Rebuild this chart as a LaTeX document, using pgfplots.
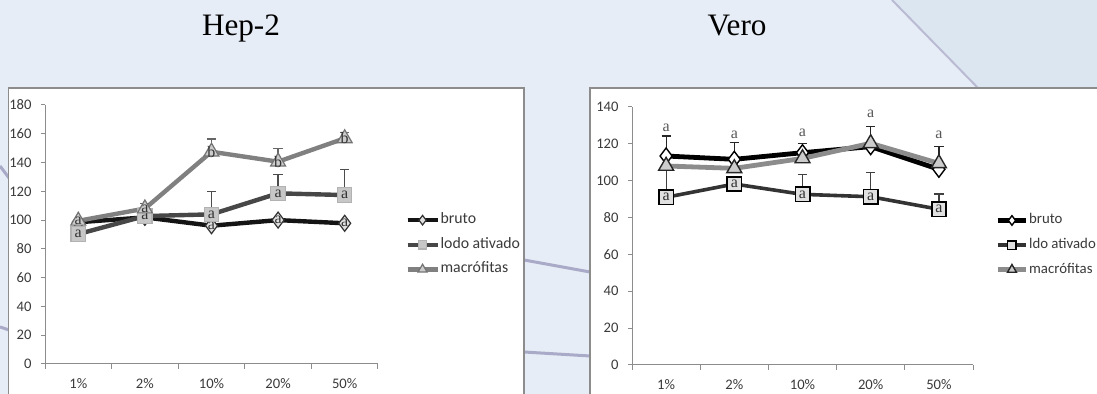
\documentclass[border=0pt]{standalone}
\usepackage{fontspec}
\setmainfont{Liberation Serif}
\newfontfamily\calib{Carlito}
\usepackage{pgfplots}
\usepackage{pgfplotstable}
\pgfplotsset{compat=1.18}
\definecolor{bgblue}{HTML}{E6EDF6}
\definecolor{bgblue2}{HTML}{DCE6F1}
\definecolor{decoline}{HTML}{A9AAC8}
\definecolor{boxgray}{HTML}{8C8C8C}
\definecolor{axisgray}{HTML}{8C8C8C}
\definecolor{tickgray}{HTML}{3A3A3A}

% Hep-2
\pgfplotstableread{
x bruto lodo lodoe macro macroe ml
1 98.5 90.3 0 99.5 0 a
2 101.9 102.8 0 108 3.6 a
3 96.1 104 15.7 147.5 8.9 b
4 100 118.6 13.2 140.6 9.2 b
5 97.8 117.4 17.9 156.8 4.2 b
}\hep
% Vero
\pgfplotstableread{
x bruto brutoe lodo lodoe macro macroe lab
1 113.4 10.9 91 16 108 0 128.5
2 111.6 9 98.2 3 106.7 0 125.1
3 115.2 5.1 92.6 10.9 112.1 0 126
4 118.5 10.8 91.3 13 120.3 0 136.5
5 106.2 12.3 84.5 8.3 109.4 0 125.1
}\vero

\pgfplotsset{
  mychart/.style={
    scale only axis,
    axis lines*=left,
    axis line style={draw=axisgray,line width=0.5pt},
    xmin=0.5,xmax=5.5,
    ymin=0,
    xtick={1,...,5},
    xticklabels={1\%,2\%,10\%,20\%,50\%},
    minor xtick={0.5,1.5,...,5.5},
    major x tick style={draw=none},
    minor tick style={draw=axisgray,line width=0.5pt},
    major tick style={draw=axisgray,line width=0.5pt},
    tick align=outside,
    major tick length=2pt,
    minor tick length=2.5pt,
    tick label style={font=\calib\fontsize{7.3}{8}\selectfont, text=tickgray},
    xticklabel style={yshift=-1.6pt},
    yticklabel style={xshift=-1.2pt},
    /pgf/number format/assume math mode=true,
    clip=false,
    legend cell align=left,
    legend style={draw=none,fill=none,inner sep=0pt,
      font=\calib\fontsize{7.9}{9}\selectfont,text=tickgray,
      row sep=5pt,
      nodes={inner sep=0.4pt,text height=5pt,text depth=1.5pt}},
    legend image code/.code={%
      \draw[##1,/tikz/every mark/.append style={scale=0.6}] (0pt,0pt) -- (15pt,0pt);
      \draw[##1,/tikz/every mark/.append style={scale=0.6},mark repeat=2,mark phase=2] plot coordinates {(0pt,0pt) (7.5pt,0pt) (15pt,0pt)};},
    every node near coord/.append style={anchor=center,inner sep=0pt,
      font=\fontsize{8}{9}\selectfont,text=black!80},
  },
}

\begin{document}
\begin{tikzpicture}
\useasboundingbox (0pt,0pt) rectangle (548.5pt,197pt);
\clip (0pt,0pt) rectangle (548.5pt,197pt);
\begin{scope}[x=0.5pt,y=0.5pt]
% background
\fill[bgblue] (0,0) rectangle (1097,394);
\fill[bgblue2] (892,394) -- (978,306) -- (1097,306) -- (1097,394) -- cycle;
\draw[decoline!80,line width=1pt] (892,394) -- (978,306);
\draw[decoline,line width=1.5pt] (0,228) .. controls (4,222) .. (9,216);
\draw[decoline,line width=1.5pt] (0,67) -- (9,64);
\draw[decoline,line width=1.5pt] (524,134) -- (590,122);
\draw[decoline,line width=1.5pt] (524,42) -- (590,38);
% titles
\node[anchor=base,font=\fontsize{15.6}{18}\selectfont] at (241,358) {Hep-2};
\node[anchor=base,font=\fontsize{15.6}{18}\selectfont] at (737,358) {Vero};
% boxes
\draw[boxgray,fill=white,line width=0.6pt] (8.5,-10) rectangle (524,306);
\draw[boxgray,fill=white,line width=0.6pt] (590,-10) rectangle (1110,306);
\end{scope}

% ---------- Hep-2 ----------
\begin{axis}[mychart,
  at={(22.5pt,15pt)},anchor=south west,
  width=166.5pt,height=129.5pt,
  ymax=180,ytick={0,20,...,180},
  legend style={at={(1.081,0.585)},anchor=north west},
  error bars/error bar style={line width=0.6pt},
  error bars/error mark options={rotate=90,mark size=2.3pt,line width=0.6pt},
]
\addplot[black!92,line width=2.2pt,mark=diamond*,mark size=4pt,
  mark options={fill=black!12,draw=black!80,line width=0.6pt},
  nodes near coords={a}]
  table[x=x,y=bruto]{\hep};
\addlegendentry{bruto}
\addplot[black!72,line width=2.2pt,mark=square*,mark size=3.6pt,
  mark options={fill=black!22,draw=black!30,line width=0.6pt},
  nodes near coords={a},
  error bars/.cd,y dir=plus,y explicit,error bar style={black!70}]
  table[x=x,y=lodo,y error=lodoe]{\hep};
\addlegendentry{lodo ativado}
\addplot[black!50,line width=2.2pt,mark=triangle*,mark size=4.3pt,
  mark options={fill=black!20,draw=black!55,line width=0.6pt},
  point meta=explicit symbolic,
  nodes near coords,
  error bars/.cd,y dir=plus,y explicit,error bar style={black!60}]
  table[x=x,y=macro,y error=macroe,meta=ml]{\hep};
\addlegendentry{macr\'ofitas}
\end{axis}

% ---------- Vero ----------
\begin{axis}[mychart,
  at={(316pt,14.5pt)},anchor=south west,
  width=170.5pt,height=129pt,
  ymax=140,ytick={0,20,...,140},
  legend style={at={(1.065,0.59)},anchor=north west,
    font=\calib\fontsize{7.4}{9}\selectfont},
  legend image code/.code={%
    \draw[#1,/tikz/every mark/.append style={scale=0.6}] (0pt,0pt) -- (14pt,0pt);
    \draw[#1,/tikz/every mark/.append style={scale=0.6},mark repeat=2,mark phase=2] plot coordinates {(0pt,0pt) (7pt,0pt) (14pt,0pt)};},
  error bars/error bar style={line width=0.6pt},
  error bars/error mark options={rotate=90,mark size=2.3pt,line width=0.6pt},
]
\addplot[black,line width=2.4pt,mark=diamond*,mark size=4pt,
  mark options={fill=white,draw=black,line width=0.7pt},
  error bars/.cd,y dir=plus,y explicit,error bar style={black!85}]
  table[x=x,y=bruto,y error=brutoe]{\vero};
\addlegendentry{bruto}
\addplot[black!80,line width=1.8pt,mark=square*,mark size=3.6pt,
  mark options={fill=black!12,draw=black,line width=0.8pt},
  nodes near coords={a},
  error bars/.cd,y dir=plus,y explicit,error bar style={black!75}]
  table[x=x,y=lodo,y error=lodoe]{\vero};
\addlegendentry{ldo ativado}
\addplot[black!45,line width=2.4pt,mark=triangle*,mark size=4.3pt,
  mark options={fill=black!20,draw=black!85,line width=0.7pt}]
  table[x=x,y=macro]{\vero};
\addlegendentry{macr\'ofitas}
\addplot[draw=none,mark=none,nodes near coords={a},forget plot,
  every node near coord/.append style={text=black!65}]
  table[x=x,y=lab]{\vero};
\end{axis}
\end{tikzpicture}
\end{document}
